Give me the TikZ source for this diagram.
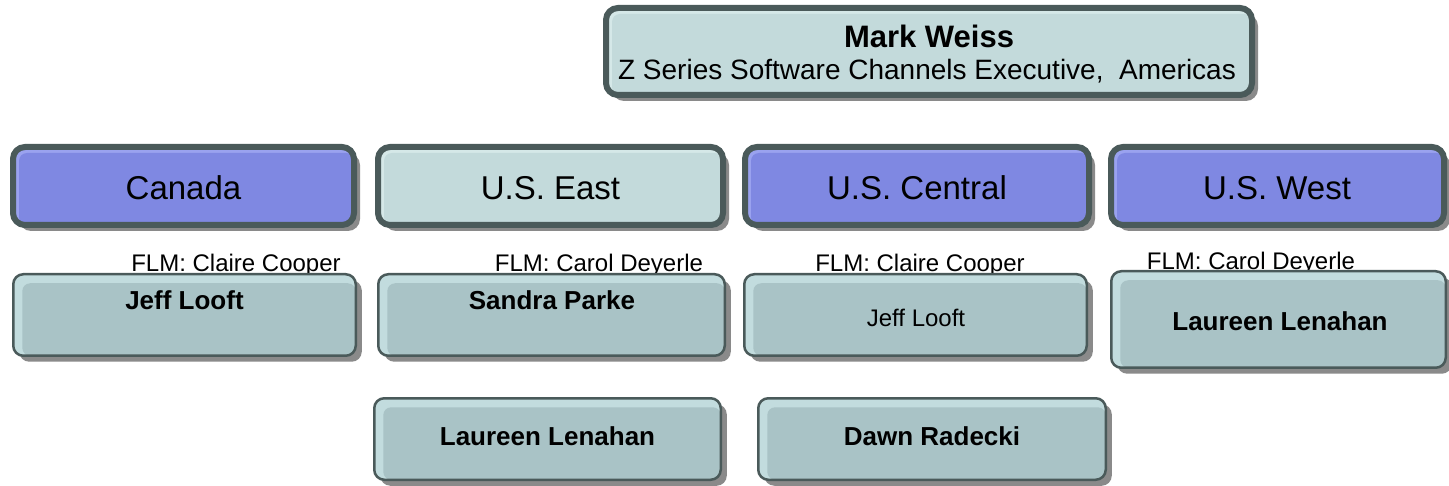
\documentclass[tikz,border=0pt]{standalone}
\usepackage{fontspec}
\setmainfont{Liberation Sans}
\usetikzlibrary{shadows,calc}

\definecolor{edgegrey}{HTML}{4A5A5A}
\definecolor{shadegrey}{HTML}{8A8A8A}
\definecolor{bluefill}{HTML}{7F88E2}
\definecolor{bluerim}{HTML}{9AA2EF}
\definecolor{palefill}{HTML}{C3DADB}
\definecolor{palerim}{HTML}{D5E8E8}
\definecolor{tealfill}{HTML}{A9C3C6}
\definecolor{tealrim}{HTML}{C2DCDE}

% one box of the chart: name, left, top, right, bottom, style, line width
\newcommand{\orgbox}[7]{%
  \node[#6, line width=#7pt,
        minimum width={(#4-#2-#7)*1pt}, minimum height={(#5-#3-#7)*1pt}]
    (#1) at ({(#2+#4)/2},{(#3+#5)/2}) {};}

\tikzset{
  boxbase/.style={draw=edgegrey, inner sep=0pt, outer sep=0pt,
    drop shadow={shadow xshift=6pt, shadow yshift=-6pt, fill=shadegrey, opacity=1}},
  rimfill/.style n args={3}{fill=#2, path picture={
      \fill[#1, rounded corners=8pt]
        ($(path picture bounding box.north west)+(#3,#3)$)
        rectangle (path picture bounding box.south east);}},
  regionbox/.style={boxbase, rounded corners=12pt, rimfill={bluefill}{bluerim}{6}},
  palebox/.style={boxbase, rounded corners=12pt, rimfill={palefill}{palerim}{6}},
  personbox/.style={boxbase, rounded corners=10pt, rimfill={tealfill}{tealrim}{9}},
  regiontext/.style={anchor=base, inner sep=0pt, font=\fontsize{33}{38}\selectfont},
  headtext/.style={anchor=base, inner sep=0pt, font=\fontsize{28}{32}\selectfont},
  bosstext/.style={anchor=base, inner sep=0pt, font=\fontsize{31}{36}\selectfont\bfseries},
  flmtext/.style={anchor=base, inner sep=0pt, font=\fontsize{24}{28}\selectfont},
  nametext/.style={anchor=base, inner sep=0pt, font=\fontsize{26}{30}\selectfont\bfseries},
  plainname/.style={anchor=base, inner sep=0pt, font=\fontsize{24}{28}\selectfont},
}

\begin{document}
\begin{tikzpicture}[x=1pt,y=-1pt]
  \fill[white] (0,0) rectangle (1449,486);
  \useasboundingbox (0,0) rectangle (1449,486);

  % executive
  \orgbox{exec}{603}{5}{1255}{98}{palebox}{6}
  \node[bosstext] (execname) at (929,48) {Mark Weiss};
  \node[headtext] (exectitle) at (927,80) {Z Series Software Channels Executive,\ \ Americas};

  % regions
  \orgbox{canada}{10}{144}{357}{228}{regionbox}{6}
  \orgbox{east}{375}{144}{726}{228}{palebox}{6}
  \orgbox{central}{742}{144}{1092}{228}{regionbox}{6}
  \orgbox{west}{1108}{144}{1447}{228}{regionbox}{6}
  \node[regiontext] (canadatext) at (183.5,200) {Canada};
  \node[regiontext] (easttext) at (550.5,200) {U.S. East};
  \node[regiontext] (centraltext) at (917,200) {U.S. Central};
  \node[regiontext] (westtext) at (1277,200) {U.S. West};

  % first line managers
  \node[flmtext] (flmcanada) at (236,272) {FLM: Claire Cooper};
  \node[flmtext] (flmeast) at (599,272) {FLM: Carol Deyerle};
  \node[flmtext] (flmcentral) at (920,272) {FLM: Claire Cooper};
  \node[flmtext] (flmwest) at (1251,270) {FLM: Carol Deyerle};

  % people
  \orgbox{jeffa}{12}{273}{357}{357}{personbox}{2.5}
  \orgbox{sandra}{377}{273}{726}{357}{personbox}{2.5}
  \orgbox{jeffb}{743}{273}{1088}{357}{personbox}{2.5}
  \orgbox{laureena}{1110}{270}{1447}{369}{personbox}{2.5}
  \orgbox{laureenb}{373}{397}{722}{481}{personbox}{2.5}
  \orgbox{dawn}{757}{397}{1107}{481}{personbox}{2.5}

  \node[nametext] (jeffatext) at (184.5,310) {Jeff Looft};
  \node[nametext] (sandratext) at (552,310) {Sandra Parke};
  \node[plainname] (jeffbtext) at (916,327) {Jeff Looft};
  \node[nametext] (laureenatext) at (1280,331) {Laureen Lenahan};
  \node[nametext] (laureenbtext) at (547.5,445) {Laureen Lenahan};
  \node[nametext] (dawntext) at (932,445) {Dawn Radecki};
\end{tikzpicture}
\end{document}
